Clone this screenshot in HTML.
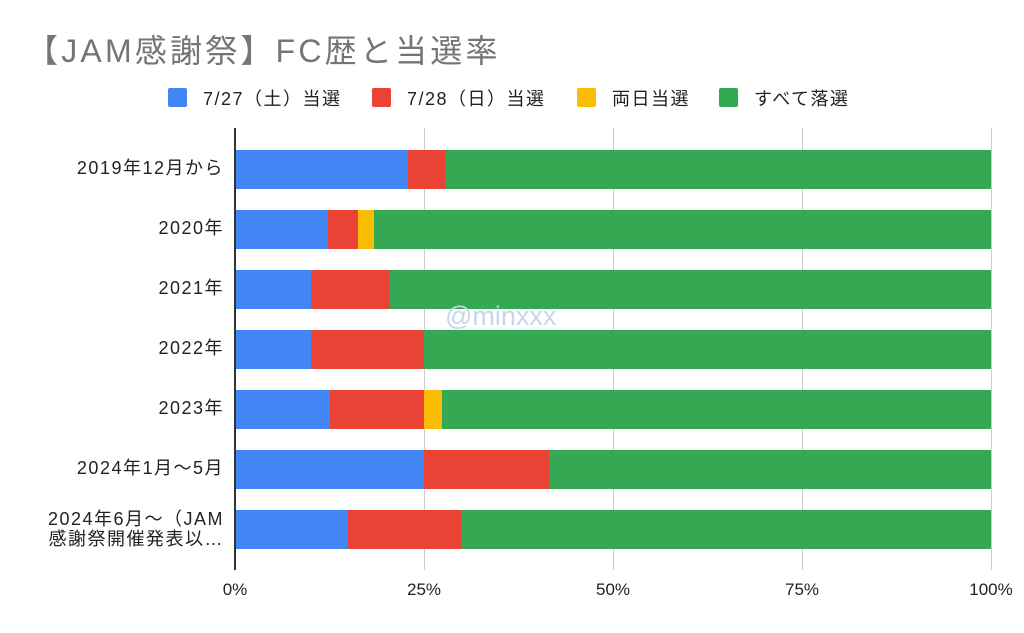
<!DOCTYPE html>
<html><head><meta charset="utf-8"><style>
body{margin:0;background:#fff;font-family:"Liberation Sans","Noto Sans CJK JP",sans-serif;}
#c{position:relative;width:1024px;height:633px;overflow:hidden;background:#fff}
.t{position:absolute;white-space:nowrap}
.b{position:absolute;height:39px}
.g{position:absolute;top:128px;height:442px;width:1px;background:#ccc}
.y{position:absolute;right:800px;font-size:18px;letter-spacing:1.5px;color:#222;text-align:right;line-height:20px;white-space:nowrap}
.x{position:absolute;top:580px;font-size:17px;color:#222;width:60px;text-align:center}
.sw{position:absolute;top:88px;width:19px;height:19px;border-radius:2px}
.lg{position:absolute;top:85px;font-size:18px;letter-spacing:1.5px;color:#222;white-space:nowrap}
</style></head><body><div id="c">
<div class="t" style="left:26px;top:26px;font-size:32px;letter-spacing:3.2px;color:#757575">【JAM感謝祭】FC歴と当選率</div>
<div class="sw" style="left:168px;background:#4285f4"></div><div class="lg" style="left:203px">7/27（土）当選</div>
<div class="sw" style="left:372px;background:#ea4335"></div><div class="lg" style="left:407px">7/28（日）当選</div>
<div class="sw" style="left:577px;background:#fbbc04"></div><div class="lg" style="left:612px">両日当選</div>
<div class="sw" style="left:719px;background:#34a853"></div><div class="lg" style="left:754px">すべて落選</div>
<div class="g" style="left:424px"></div><div class="g" style="left:613px"></div><div class="g" style="left:802px"></div><div class="g" style="left:991px"></div>
<div id="bars"></div>
<div class="t" style="left:445px;top:301px;font-size:27px;color:#c6d4ee">@minxxx</div>
<div class="g" style="left:234px;background:#333;width:1.5px"></div>
<div class="y" style="top:158px">2019年12月から</div>
<div class="y" style="top:218px">2020年</div>
<div class="y" style="top:278px">2021年</div>
<div class="y" style="top:338px">2022年</div>
<div class="y" style="top:398px">2023年</div>
<div class="y" style="top:458px">2024年1月〜5月</div>
<div class="y" style="top:509px">2024年6月〜（JAM<br>感謝祭開催発表以…</div>
<div class="x" style="left:205px">0%</div><div class="x" style="left:394px">25%</div><div class="x" style="left:583px">50%</div><div class="x" style="left:772px">75%</div><div class="x" style="left:961px">100%</div>
</div>
<script>
var rows=[[408,446,446],[328,358,374],[311,390,390],[311,424,424],[330,424,442],[424,549,549],[348,461,461]];
var h='';rows.forEach(function(r,i){var t=150+60*i;
h+='<div class="b" style="top:'+t+'px;left:235px;width:'+(r[0]-235)+'px;background:#4285f4"></div>';
h+='<div class="b" style="top:'+t+'px;left:'+r[0]+'px;width:'+(r[1]-r[0])+'px;background:#ea4335"></div>';
h+='<div class="b" style="top:'+t+'px;left:'+r[1]+'px;width:'+(r[2]-r[1])+'px;background:#fbbc04"></div>';
h+='<div class="b" style="top:'+t+'px;left:'+r[2]+'px;width:'+(991-r[2])+'px;background:#34a853"></div>';});
document.getElementById('bars').innerHTML=h;
</script>
</body></html>
